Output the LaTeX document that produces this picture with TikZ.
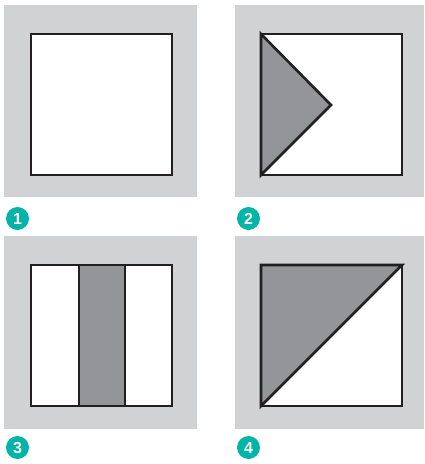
\documentclass[tikz,border=0pt]{standalone}
\usepackage{fontspec}
\setsansfont{Liberation Sans}
\definecolor{bggray}{HTML}{D1D2D4}
\definecolor{darkfill}{HTML}{939598}
\definecolor{teal}{HTML}{00B5A7}
\definecolor{ink}{HTML}{231F20}
\tikzset{
  panel/.style={fill=bggray, draw=none},
  frame/.style={draw=ink, line width=2.6pt, line join=miter},
  shade/.style={fill=darkfill},
  numcirc/.style={circle, fill=teal, minimum size=23pt, inner sep=0pt, text=white, font=\sffamily\bfseries\fontsize{16}{16}\selectfont}
}
\begin{document}
\begin{tikzpicture}[x=1pt,y=-1pt]
\useasboundingbox (0,0) rectangle (425,464);
% panel backgrounds
\fill[panel] (4,5) rectangle (197,197);
\fill[panel] (235,5) rectangle (424,197);
\fill[panel] (4,236) rectangle (197,429);
\fill[panel] (235,236) rectangle (424,429);
% panel 1
\fill[white] (31,34) rectangle (172,175);
\draw[frame] (31,34) rectangle (172,175);
% panel 2
\fill[white] (261,34) rectangle (402,175);
\filldraw[shade, frame] (261,34) -- (331,105) -- (261,175) -- cycle;
\draw[frame] (261,34) rectangle (402,175);
% panel 3
\fill[white] (31,265) rectangle (172,406);
\filldraw[shade, frame] (79,265) rectangle (125,406);
\draw[frame] (31,265) rectangle (172,406);
% panel 4
\fill[white] (261,265) rectangle (402,406);
\filldraw[shade, frame] (261,265) -- (402,265) -- (261,406) -- cycle;
\draw[frame] (261,265) rectangle (402,406);
% numbers
\node[numcirc] (n1) at (17.5,218.5) {1};
\node[numcirc] (n2) at (248.5,218.5) {2};
\node[numcirc] (n3) at (17.5,447.5) {3};
\node[numcirc] (n4) at (248.5,447.5) {4};
\end{tikzpicture}
\end{document}
